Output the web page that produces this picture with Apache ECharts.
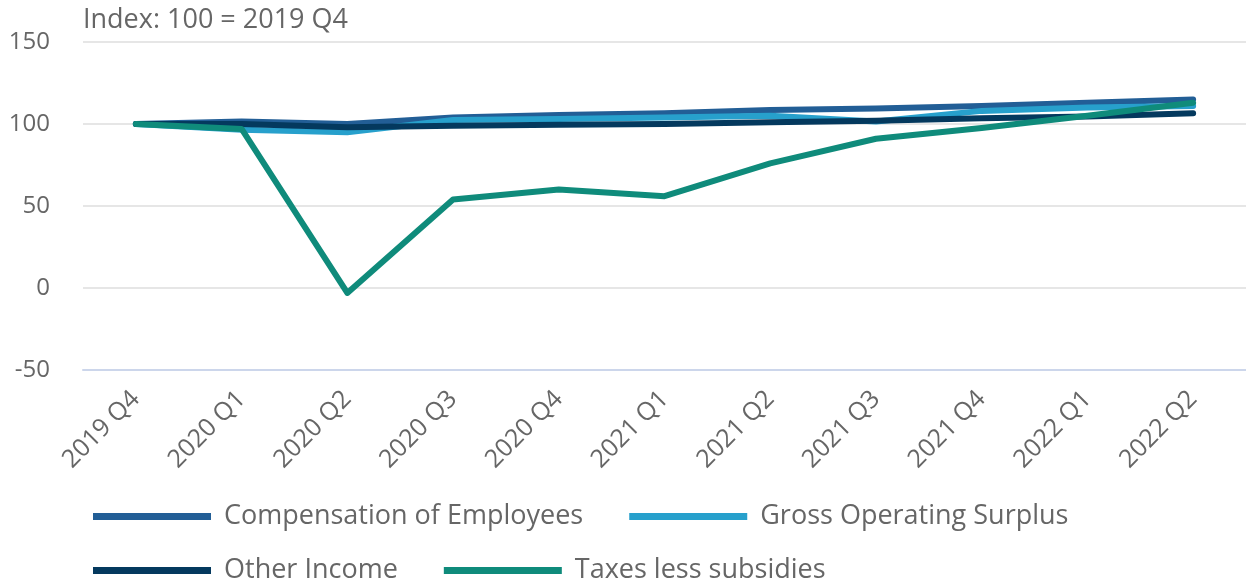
<!DOCTYPE html>
<html>
<head>
<meta charset="utf-8">
<script src="https://cdn.jsdelivr.net/npm/echarts@6/dist/echarts.min.js"></script>
<style>
  html, body { margin: 0; padding: 0; background: #fff; }
  #chart { width: 1246px; height: 581px; }
</style>
</head>
<body>
<div id="chart"></div>
<script>
const quarters = ["2019 Q4", "2020 Q1", "2020 Q2", "2020 Q3", "2020 Q4", "2021 Q1",
  "2021 Q2", "2021 Q3", "2021 Q4", "2022 Q1", "2022 Q2"]

// index values, 100 = 2019 Q4
const compensation = [100, 101.5, 100, 104, 105.5, 106.5, 108.5, 109.5, 111, 113, 115]
const grossOperating = [100, 96.5, 95, 102.5, 103, 104, 105, 101.5, 108, 110, 111]
const otherIncome = [100, 100, 98, 99, 99.5, 100, 101, 102, 103.5, 104.5, 106.5]
const taxesLessSubsidies = [100, 97, -3, 54, 60, 56, 76, 91, 97.5, 105, 113]

const font = "'Open Sans', sans-serif"
const grey = "#666666"

const chart = echarts.init(document.getElementById("chart"))

function makeLine(name, data, color) {
  return {
    name: name,
    type: "line",
    data: data,
    symbol: "none",
    color: color,
    lineStyle: { width: 6, color: color, cap: "round", join: "round" },
    emphasis: { disabled: true },
  }
}

chart.setOption({
  animation: false,
  backgroundColor: "#fff",
  title: {
    text: "Index: 100 = 2019 Q4",
    left: 78,
    top: 2,
    textStyle: { fontFamily: font, fontSize: 27, fontWeight: "normal", color: grey },
  },
  grid: { left: 83, right: 0, top: 42, bottom: 211 },
  legend: {
    left: 88,
    top: 498,
    width: 1120,
    icon: "rect",
    itemWidth: 118,
    itemHeight: 7,
    itemGap: 27,
    data: ["Compensation of Employees", "Gross Operating Surplus", "Other Income", "Taxes less subsidies"],
    textStyle: { fontFamily: font, fontSize: 27, color: grey, lineHeight: 24, padding: [0, 19, 0, 8] },
  },
  xAxis: {
    type: "category",
    data: quarters,
    boundaryGap: true,
    axisLine: { onZero: false, lineStyle: { color: "#ccd6eb", width: 2 } },
    axisTick: { alignWithLabel: true, length: 20, lineStyle: { color: "#ccd6eb", width: 2 } },
    axisLabel: { rotate: 45, margin: 25, fontFamily: font, fontSize: 25, color: grey },
  },
  yAxis: {
    type: "value",
    min: -50,
    max: 150,
    interval: 50,
    axisLine: { show: false },
    axisTick: { show: false },
    axisLabel: { margin: 33, fontFamily: font, fontSize: 24, color: grey },
    splitLine: { lineStyle: { color: "#e6e6e6", width: 2 } },
  },
  series: [
    makeLine("Compensation of Employees", compensation, "#225e96"),
    makeLine("Gross Operating Surplus", grossOperating, "#27a0cc"),
    makeLine("Other Income", otherIncome, "#04395e"),
    makeLine("Taxes less subsidies", taxesLessSubsidies, "#0f8b7b"),
  ],
})

window.addEventListener("resize", () => chart.resize())
</script>
</body>
</html>
